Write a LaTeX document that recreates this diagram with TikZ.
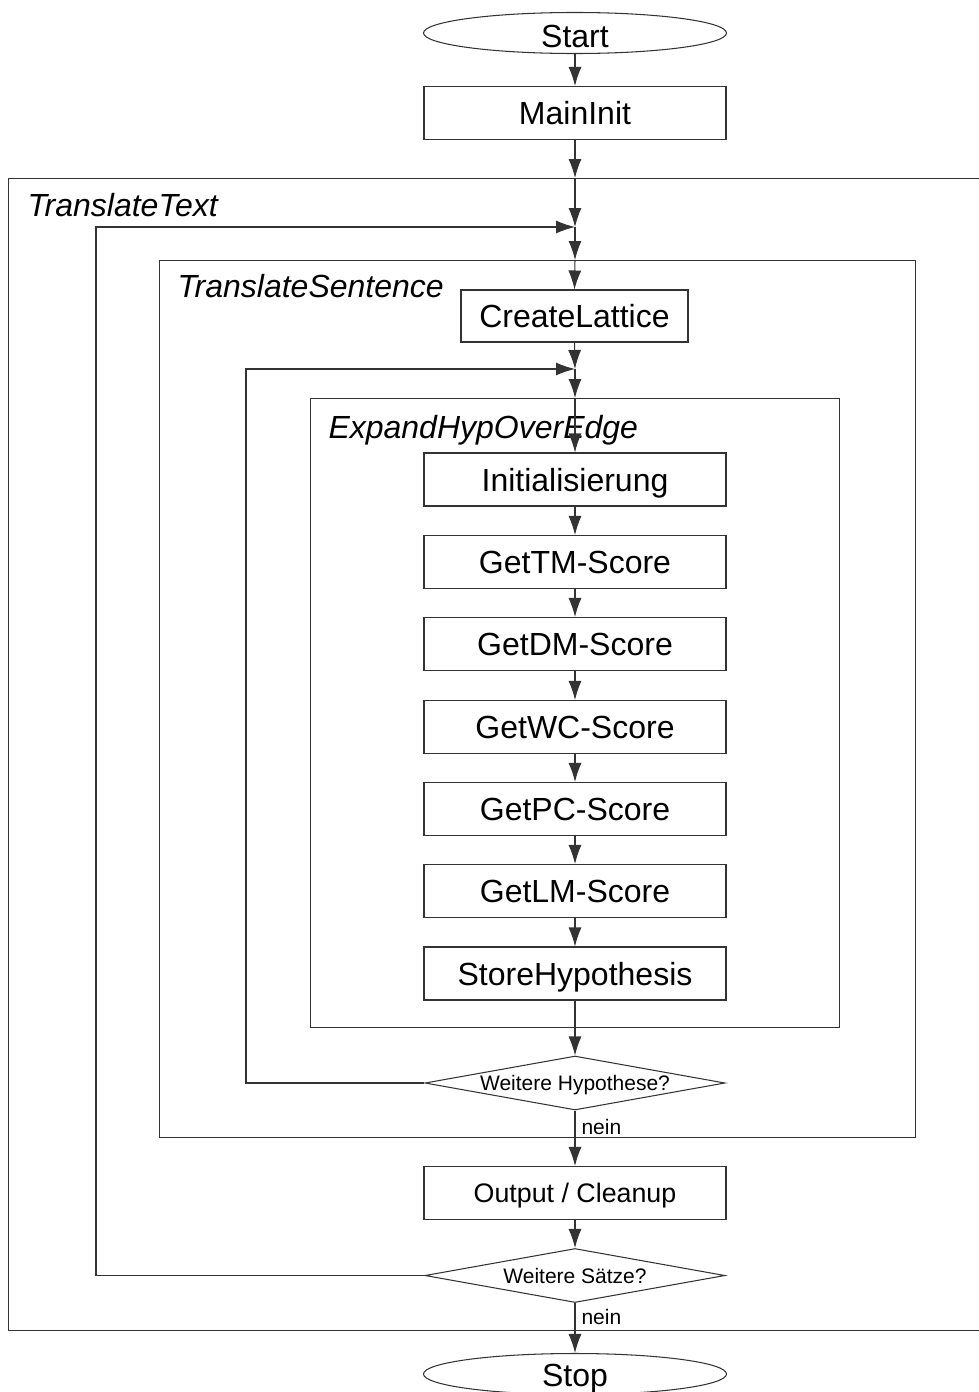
\documentclass[tikz,border=0pt]{standalone}
\usepackage{fontspec}
\setmainfont{Liberation Sans}
\usetikzlibrary{shapes.geometric,arrows.meta}
\begin{document}
\begin{tikzpicture}[x=1pt,y=-1pt,
  line width=1.05pt,
  ln/.style={draw=black!80},
  proc/.style={draw=black!80, rectangle, minimum width=302pt, minimum height=53pt, inner sep=0pt, text height=23pt, text depth=0pt, font=\fontsize{32}{36}\selectfont},
  term/.style={draw=black!80, ellipse, minimum width=303pt, minimum height=41pt, inner sep=0pt, text height=29pt, text depth=0pt, font=\fontsize{32}{36}\selectfont},
  decide/.style={draw=black!80, diamond, aspect=5.55, minimum width=300pt, minimum height=54pt, inner sep=0pt, text height=15pt, text depth=0pt, font=\fontsize{21}{25}\selectfont},
  container/.style={draw=black!80, rectangle, anchor=north west, inner sep=0pt},
  title/.style={anchor=west, inner sep=0pt, text height=22pt, text depth=0pt, font=\fontsize{32}{36}\selectfont\itshape},
  small/.style={anchor=west, inner sep=0pt, font=\fontsize{21}{25}\selectfont},
  arr/.style={draw=black!80, -{Latex[length=19pt,width=13pt]}}
]
\useasboundingbox (0,0) rectangle (979,1392);
\clip (0,0) rectangle (979,1392);

% containers
\node[container, minimum width=990pt, minimum height=1152pt] (tt) at (8,178) {};
\node[container, minimum width=756pt, minimum height=877pt] (ts) at (159,260) {};
\node[container, minimum width=529pt, minimum height=629pt] (eh) at (310,398) {};

\node[title] (ttl) at (27,205.5) {TranslateText};
\node[title] (tsl) at (177,286.5) {TranslateSentence};
\node[title] (ehl) at (328,427) {ExpandHypOverEdge};

% main nodes
\node[term] (start) at (575,33) {Start};
\node[proc] (main) at (575,113) {MainInit};
\node[proc, minimum width=227pt, minimum height=52pt] (cl) at (574.5,316) {CreateLattice};
\node[proc] (init) at (575,479.5) {Initialisierung};
\node[proc] (tm) at (575,562) {GetTM-Score};
\node[proc] (dm) at (575,644) {GetDM-Score};
\node[proc] (wc) at (575,727) {GetWC-Score};
\node[proc] (pc) at (575,809) {GetPC-Score};
\node[proc] (lm) at (575,891) {GetLM-Score};
\node[proc] (sh) at (575,973.5) {StoreHypothesis};
\node[decide] (d1) at (575,1083) {Weitere Hypothese?};
\node[proc, text height=19pt, font=\fontsize{26.8}{30}\selectfont] (out) at (575,1193) {Output / Cleanup};
\node[decide] (d2) at (575,1275.5) {Weitere Sätze?};
\node[term, text height=24pt] (stop) at (575,1374) {Stop};

% junctions
\coordinate (j1) at (575,227);
\coordinate (j2) at (575,369);

% spine
\draw[arr] (start.south) -- (main.north);
\draw[arr] (main.south) -- (main.south |- tt.north);
\draw[arr] (main.south |- tt.north) -- (j1);
\draw[arr] (j1) -- (j1 |- ts.north);
\draw[arr] (j1 |- ts.north) -- (cl.north);
\draw[arr] (cl.south) -- (j2);
\draw[arr] (j2) -- (j2 |- eh.north);
\draw[arr] (j2 |- eh.north) -- (init.north);
\draw[arr] (init.south) -- (tm.north);
\draw[arr] (tm.south) -- (dm.north);
\draw[arr] (dm.south) -- (wc.north);
\draw[arr] (wc.south) -- (pc.north);
\draw[arr] (pc.south) -- (lm.north);
\draw[arr] (lm.south) -- (sh.north);
\draw[ln] (sh.south) -- (sh.south |- eh.south);
\draw[arr] (sh.south |- eh.south) -- (d1.north);
\draw[arr] (d1.south) -- (out.north);
\draw[arr] (out.south) -- (d2.north);
\draw[arr] (d2.south) -- (stop.north);

% loops
\draw[arr] (d1.west) -- (246,1083) -- (246,369) -- (j2);
\draw[arr] (d2.west) -- (96,1275.5) -- (96,227) -- (j1);

% labels
\node[small] (n1) at (581,1127) {nein};
\node[small] (n2) at (581,1317) {nein};
\end{tikzpicture}
\end{document}
